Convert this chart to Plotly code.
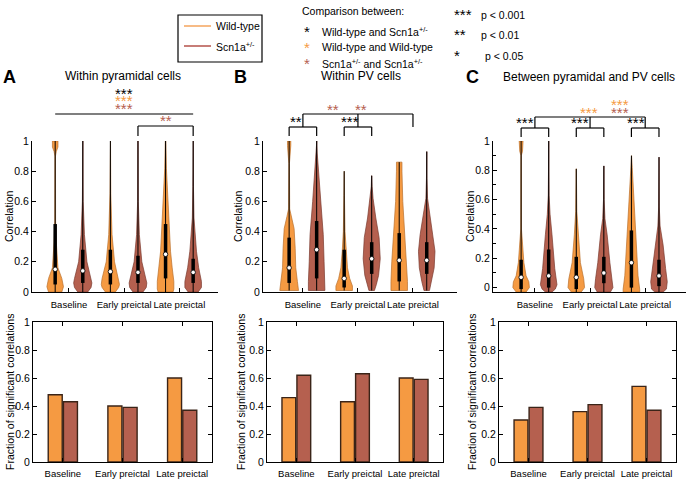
import plotly.graph_objects as go

W, H = 688, 479

periods = ['Baseline', 'Early preictal', 'Late preictal']
wt_color = '#F59A42'
scn_color = '#B5604F'
wt_edge = '#B9702C'
scn_edge = '#7A3A2E'

# violin summaries (6 violins per panel: WT/Scn1a for baseline, early, late)
med_A = [0.15, 0.14, 0.135, 0.13, 0.25, 0.13]
q1_A = [0.05, 0.06, 0.05, 0.06, 0.09, 0.06]
q3_A = [0.45, 0.28, 0.28, 0.24, 0.45, 0.22]
max_A = [1.0, 1.0, 1.0, 1.0, 1.0, 1.0]

med_B = [0.16, 0.28, 0.09, 0.22, 0.21, 0.21]
q1_B = [0.06, 0.09, 0.03, 0.12, 0.07, 0.12]
q3_B = [0.36, 0.47, 0.28, 0.33, 0.39, 0.33]
max_B = [1.0, 1.0, 0.8, 0.77, 0.86, 0.93]

med_C = [0.07, 0.08, 0.07, 0.10, 0.17, 0.08]
q1_C = [-0.01, 0.0, -0.01, 0.03, 0.0, 0.01]
q3_C = [0.19, 0.26, 0.21, 0.21, 0.39, 0.19]
max_C = [1.0, 1.0, 0.81, 0.83, 0.9, 0.89]

# density outline of each violin: (correlation, half width)
dens_A = [
    [(0, 0.24), (0.035, 0.30), (0.09, 0.24), (0.16, 0.10), (0.33, 0.04), (0.47, 0.015),
     (0.9, 0.01), (0.93, 0.04), (0.96, 0.1), (1.0, 0.1)],
    [(0, 0.18), (0.03, 0.3), (0.06, 0.33), (0.09, 0.3), (0.2, 0.15), (0.38, 0.06), (0.6, 0.015), (1.0, 0.005)],
    [(0, 0.18), (0.03, 0.3), (0.05, 0.33), (0.09, 0.3), (0.2, 0.15), (0.38, 0.06), (0.65, 0.015), (1.0, 0.005)],
    [(0, 0.18), (0.03, 0.3), (0.06, 0.32), (0.09, 0.28), (0.2, 0.14), (0.38, 0.05), (0.6, 0.012), (1.0, 0.005)],
    [(0, 0.27), (0.02, 0.3), (0.07, 0.3), (0.16, 0.24), (0.27, 0.18), (0.49, 0.12), (0.71, 0.06),
     (0.82, 0.03), (1.0, 0.01)],
    [(0, 0.18), (0.03, 0.3), (0.07, 0.3), (0.16, 0.2), (0.27, 0.12), (0.49, 0.03), (0.7, 0.01), (1.0, 0.005)],
]
dens_B = [
    [(0.01, 0.34), (0.07, 0.30), (0.16, 0.24), (0.29, 0.22), (0.42, 0.18), (0.5, 0.08), (0.55, 0.02),
     (0.85, 0.01), (0.9, 0.04), (0.97, 0.06), (1.0, 0.06)],
    [(0.01, 0.30), (0.07, 0.30), (0.2, 0.27), (0.38, 0.24), (0.6, 0.145), (0.82, 0.06), (0.92, 0.02), (1.0, 0.005)],
    [(0.01, 0.3), (0.04, 0.3), (0.09, 0.2), (0.16, 0.12), (0.27, 0.07), (0.4, 0.03), (0.64, 0.01), (0.8, 0.004)],
    [(0.01, 0.1), (0.05, 0.17), (0.11, 0.25), (0.22, 0.31), (0.36, 0.27), (0.49, 0.15), (0.62, 0.05),
     (0.7, 0.015), (0.77, 0.004)],
    [(0.01, 0.30), (0.07, 0.30), (0.2, 0.27), (0.38, 0.21), (0.6, 0.13), (0.8, 0.10), (0.86, 0.10)],
    [(0.01, 0.1), (0.07, 0.18), (0.16, 0.27), (0.27, 0.30), (0.38, 0.24), (0.53, 0.10), (0.62, 0.03),
     (0.75, 0.01), (0.93, 0.004)],
]
dens_C = [
    [(-0.03, 0.18), (0.0, 0.3), (0.04, 0.28), (0.08, 0.18), (0.17, 0.1), (0.3, 0.04), (0.4, 0.012),
     (0.9, 0.006), (0.93, 0.05), (1.0, 0.07)],
    [(-0.03, 0.12), (-0.01, 0.24), (0.02, 0.3), (0.13, 0.22), (0.36, 0.12), (0.5, 0.05), (0.63, 0.015), (1.0, 0.004)],
    [(-0.03, 0.18), (0.0, 0.3), (0.06, 0.27), (0.17, 0.15), (0.36, 0.07), (0.52, 0.02), (0.81, 0.004)],
    [(-0.03, 0.24), (0.0, 0.33), (0.06, 0.3), (0.17, 0.22), (0.36, 0.12), (0.47, 0.04), (0.6, 0.012), (0.83, 0.004)],
    [(-0.03, 0.3), (-0.01, 0.3), (0.08, 0.24), (0.24, 0.19), (0.47, 0.12), (0.7, 0.06), (0.82, 0.03), (0.9, 0.006)],
    [(-0.03, 0.15), (-0.01, 0.27), (0.04, 0.3), (0.13, 0.24), (0.29, 0.15), (0.42, 0.04), (0.55, 0.012), (0.89, 0.004)],
]

# fraction of significant correlations
frac_wt_A = [0.48, 0.40, 0.60]
frac_scn_A = [0.43, 0.39, 0.37]
frac_wt_B = [0.46, 0.43, 0.60]
frac_scn_B = [0.62, 0.63, 0.59]
frac_wt_C = [0.30, 0.36, 0.54]
frac_scn_C = [0.39, 0.41, 0.37]

FONT = 'Liberation Sans, Arial, sans-serif'


def py(p):
    # pixel row -> paper y
    return 1 - p / H


def px(p):
    return p / W


fig = go.Figure()


def add_violins(n, meds, q1s, q3s, maxs, dens):
    xa, ya = 'x%d' % n if n > 1 else 'x', 'y%d' % n if n > 1 else 'y'
    for i in range(6):
        pos = i + 1
        col = wt_color if i % 2 == 0 else scn_color
        edge = wt_edge if i % 2 == 0 else scn_edge
        ys = [d[0] for d in dens[i]]
        ws = [d[1] for d in dens[i]]
        xs = [pos - w for w in ws] + [pos + w for w in ws[::-1]]
        yy = ys + ys[::-1]
        fig.add_trace(go.Scatter(x=xs + [xs[0]], y=yy + [yy[0]], mode='lines', fill='toself',
                                 fillcolor=col, line=dict(color=edge, width=0.7),
                                 xaxis=xa, yaxis=ya, hoverinfo='skip'))
        # whisker
        fig.add_trace(go.Scatter(x=[pos, pos], y=[ys[0], maxs[i]], mode='lines',
                                 line=dict(color='black', width=1), xaxis=xa, yaxis=ya))
        # interquartile box
        fig.add_trace(go.Scatter(x=[pos, pos], y=[q1s[i], q3s[i]], mode='lines',
                                 line=dict(color='black', width=3.5), xaxis=xa, yaxis=ya))
        fig.add_trace(go.Scatter(x=[pos], y=[meds[i]], mode='markers',
                                 marker=dict(color='white', size=4.5, line=dict(color='black', width=0.8)),
                                 xaxis=xa, yaxis=ya))


add_violins(1, med_A, q1_A, q3_A, max_A, dens_A)
add_violins(2, med_B, q1_B, q3_B, max_B, dens_B)
add_violins(3, med_C, q1_C, q3_C, max_C, dens_C)


def add_bars(n, wt, scn):
    for vals, col in [(wt, wt_color), (scn, scn_color)]:
        fig.add_trace(go.Bar(x=[1, 2, 3], y=vals, marker=dict(color=col, line=dict(color='#3A2418', width=1.4)),
                             xaxis='x%d' % n, yaxis='y%d' % n))


add_bars(4, frac_wt_A, frac_scn_A)
add_bars(5, frac_wt_B, frac_scn_B)
add_bars(6, frac_wt_C, frac_scn_C)

top_dom = [py(292), py(141)]
bot_dom = [py(462), py(322)]
top_x = [[32, 218], [263, 457], [493, 686]]
bot_x = [[33, 212], [267, 443], [499, 676]]
top_xrange = [[0.16, 6.9], [0.05, 7.1], [-0.02, 6.98]]
top_yrange = [[0, 1], [0, 1], [-0.03, 1]]

tickfont = dict(family=FONT, size=10.5, color='black')
catfont = dict(family=FONT, size=9.5, color='black')
layout = dict(template='none', width=W, height=H, margin=dict(l=0, r=0, t=0, b=0, pad=0),
              paper_bgcolor='white', plot_bgcolor='white', showlegend=False, barmode='group',
              bargap=0.49, bargroupgap=0.08, font=dict(family=FONT, color='black'))

for k in range(3):
    n = k + 1
    sx = '' if n == 1 else str(n)
    layout['xaxis' + sx] = dict(domain=[px(top_x[k][0]), px(top_x[k][1])], range=top_xrange[k],
                                anchor='y' + sx, showline=True, linecolor='black', linewidth=1,
                                ticks='inside', ticklen=4, tickcolor='black', tickvals=[1.5, 3.5, 5.5],
                                ticktext=periods, tickfont=catfont, tickangle=0, ticklabelstandoff=4,
                                automargin=False, showgrid=False, zeroline=False)
    yax = dict(domain=top_dom, range=top_yrange[k], anchor='x' + sx, showline=True, linecolor='black',
               linewidth=1, ticks='inside', ticklen=4, tickcolor='black',
               tickvals=[0, 0.2, 0.4, 0.6, 0.8, 1], ticktext=['0', '0.2', '0.4', '0.6', '0.8', '1'],
               tickfont=tickfont, automargin=False, showgrid=False, zeroline=False)
    if n == 3:
        yax['minor'] = dict(ticks='inside', ticklen=3, tickcolor='black', tickvals=[0.1, 0.3, 0.5, 0.7, 0.9])
    layout['yaxis' + sx] = yax

for k in range(3):
    n = k + 4
    sx = str(n)
    layout['xaxis' + sx] = dict(domain=[px(bot_x[k][0]), px(bot_x[k][1])], range=[0.5, 3.5],
                                anchor='y' + sx, showline=True, mirror='ticks', linecolor='black',
                                linewidth=1, ticks='inside', ticklen=4, tickcolor='black',
                                tickvals=[1, 2, 3], ticktext=periods, tickfont=catfont, tickangle=0,
                                ticklabelstandoff=3, automargin=False, showgrid=False, zeroline=False)
    layout['yaxis' + sx] = dict(domain=bot_dom, range=[0, 1], anchor='x' + sx, showline=True,
                                mirror='ticks', linecolor='black', linewidth=1, ticks='inside',
                                ticklen=4, tickcolor='black', tickvals=[0, 0.2, 0.4, 0.6, 0.8, 1],
                                ticktext=['0', '0.2', '0.4', '0.6', '0.8', '1'], tickfont=tickfont,
                                automargin=False, showgrid=False, zeroline=False)

fig.update_layout(**layout)

ann = []
shapes = []


def text(x, y, s, size=11, color='black', xanchor='center', xref='paper', angle=0, bold=False):
    if bold:
        s = '<b>' + s + '</b>'
    ann.append(dict(x=x, y=py(y), xref=xref, yref='paper', text=s, showarrow=False,
                    font=dict(family=FONT, size=size, color=color), xanchor=xanchor,
                    yanchor='middle', textangle=angle))


def hline(xref, x0, x1, y):
    shapes.append(dict(type='line', xref=xref, yref='paper', x0=x0, x1=x1, y0=py(y), y1=py(y),
                       line=dict(color='black', width=1.2)))


def vline(xref, x, y0, y1):
    shapes.append(dict(type='line', xref=xref, yref='paper', x0=x, x1=x, y0=py(y0), y1=py(y1),
                       line=dict(color='black', width=1.2)))


def bracket(xref, x0, x1, y, drop):
    hline(xref, x0, x1, y)
    vline(xref, x0, y, y + drop)
    vline(xref, x1, y, y + drop)


def stars(xref, x, y, s, color):
    text(x, y, s, size=15, color=color, xref=xref)


# panel letters and titles
text(px(1), 77, 'A', size=18, xanchor='left', bold=True)
text(px(232), 77, 'B', size=18, xanchor='left', bold=True)
text(px(464), 77, 'C', size=18, xanchor='left', bold=True)
text(px(123), 76, 'Within pyramidal cells', size=12)
text(px(361), 76, 'Within PV cells', size=12)
text(px(589), 77, 'Between pyramidal and PV cells', size=12)

# y axis titles
for xp in [9, 238, 470]:
    text(px(xp), 216, 'Correlation', size=10.5, angle=-90)
for xp in [10, 241, 472]:
    text(px(xp), 392, 'Fraction of significant correlations', size=10.5, angle=-90)

# significance, panel A
hline('x', 1, 6, 114)
stars('x', 3.5, 93, '***', 'black')
stars('x', 3.5, 101, '***', wt_color)
stars('x', 3.5, 109, '***', scn_color)
bracket('x', 4, 6, 126, 10)
stars('x', 5, 121, '**', scn_color)

# panel B
bracket('x2', 1, 2, 127, 9)
bracket('x2', 3, 4, 127, 9)
hline('x2', 1.5, 5.5, 114)
for xv in [1.5, 3.5, 5.5]:
    vline('x2', xv, 114, 127)
stars('x2', 1.25, 122, '**', 'black')
stars('x2', 3.2, 122, '***', 'black')
stars('x2', 2.6, 110, '**', scn_color)
stars('x2', 3.6, 110, '**', scn_color)

# panel C
for a in [1, 3, 5]:
    bracket('x3', a, a + 1, 128, 9)
    stars('x3', a + 0.15, 123, '***', 'black')
hline('x3', 1.5, 5.5, 117)
for xv in [1.5, 3.5, 5.5]:
    vline('x3', xv, 117, 128)
stars('x3', 3.45, 112, '***', wt_color)
stars('x3', 4.6, 104, '***', wt_color)
stars('x3', 4.6, 112, '***', scn_color)

# genotype legend box
shapes.append(dict(type='rect', xref='paper', yref='paper', x0=px(178), x1=px(262), y0=py(62), y1=py(15),
                   line=dict(color='black', width=1.2)))
shapes.append(dict(type='line', xref='paper', yref='paper', x0=px(184), x1=px(211), y0=py(26), y1=py(26),
                   line=dict(color='#F5A55E', width=1.5)))
shapes.append(dict(type='line', xref='paper', yref='paper', x0=px(184), x1=px(211), y0=py(46), y1=py(46),
                   line=dict(color='#B5524A', width=1.5)))
text(px(214), 26, 'Wild-type', size=10.5, xanchor='left')
text(px(214), 46, 'Scn1a<sup>+/-</sup>', size=10.5, xanchor='left')

# comparison legend
text(px(300), 11, 'Comparison between:', size=10.5, xanchor='left')
for yv, col, lab in [(31, 'black', 'Wild-type and Scn1a<sup>+/-</sup>'),
                     (47, wt_color, 'Wild-type and Wild-type'),
                     (63, scn_color, 'Scn1a<sup>+/-</sup> and Scn1a<sup>+/-</sup>')]:
    text(px(307), yv, '*', size=15, color=col)
    text(px(320), yv, lab, size=10.5, xanchor='left')
for yv, s, lab, xl in [(15, '***', 'p < 0.001', 479), (35, '**', 'p < 0.01', 479), (56, '*', 'p < 0.05', 483)]:
    text(px(452), yv, s, size=15, xanchor='left')
    text(px(xl), yv, lab, size=10.5, xanchor='left')

fig.update_layout(annotations=ann, shapes=shapes)

fig.write_html("out.html", config={'displayModeBar': False},
               post_script="document.body.style.margin='0';")
